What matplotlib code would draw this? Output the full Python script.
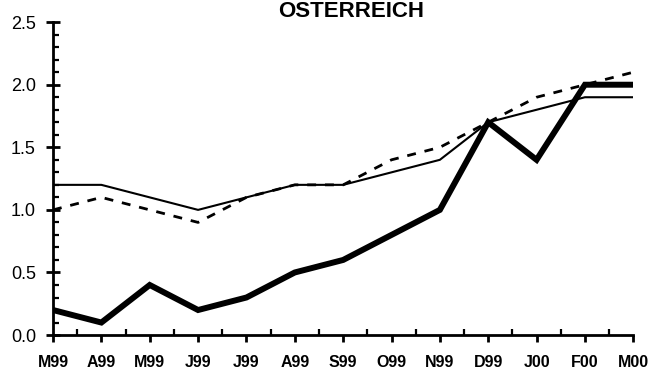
import matplotlib
matplotlib.use("Agg")
import matplotlib.pyplot as plt
from matplotlib.ticker import MultipleLocator, FixedLocator

months = ["M99", "A99", "M99", "J99", "J99", "A99", "S99", "O99",
          "N99", "D99", "J00", "F00", "M00"]
series_thin = [1.2, 1.2, 1.1, 1.0, 1.1, 1.2, 1.2, 1.3, 1.4, 1.7, 1.8, 1.9, 1.9]
series_dashed = [1.0, 1.1, 1.0, 0.9, 1.1, 1.2, 1.2, 1.4, 1.5, 1.7, 1.9, 2.0, 2.1]
series_thick = [0.2, 0.1, 0.4, 0.2, 0.3, 0.5, 0.6, 0.8, 1.0, 1.7, 1.4, 2.0, 2.0]
y_ticks = [0.0, 0.5, 1.0, 1.5, 2.0, 2.5]
title = "OSTERREICH"

plt.rcParams["font.family"] = ["Liberation Sans", "DejaVu Sans"]

fig = plt.figure(figsize=(6.52, 3.69), dpi=100)
ax = fig.add_axes([0.0813, 0.092, 0.890, 0.848])

x = list(range(len(months)))
ax.plot(x, series_thin, color="black", lw=1.5, solid_joinstyle="round",
        solid_capstyle="round")
ax.plot(x, series_dashed, color="black", lw=2.0, dashes=(3.2, 3.2))
ax.plot(x, series_thick, color="black", lw=4.3, solid_joinstyle="miter",
        solid_capstyle="butt")

ax.set_xlim(0, len(months) - 1)
ax.set_ylim(0, 2.5)

for side in ("top", "right"):
    ax.spines[side].set_visible(False)
for side in ("left", "bottom"):
    ax.spines[side].set_linewidth(2.0)

ax.yaxis.set_minor_locator(MultipleLocator(0.1))
ax.set_yticks(y_ticks)
ax.set_yticklabels([f"{v:.1f}" for v in y_ticks], fontsize=13)
ax.tick_params(axis="y", which="major", direction="inout", length=9.5,
               width=2.0, pad=7.5)
ax.tick_params(axis="y", which="minor", direction="in", length=4.5, width=1.6)

ax.xaxis.set_major_locator(FixedLocator(x))
ax.xaxis.set_minor_locator(FixedLocator([i + 0.5 for i in x[:-1]]))
ax.set_xticklabels(months, fontsize=11.5, fontweight="bold")
ax.tick_params(axis="x", which="major", direction="out", length=5,
               width=2.0, pad=9.5)
ax.tick_params(axis="x", which="minor", direction="in", length=4, width=1.6)

fig.text(0.539, 0.953, title, ha="center", va="baseline", fontsize=16,
         fontweight="bold")

fig.savefig("out.png", dpi=100)
